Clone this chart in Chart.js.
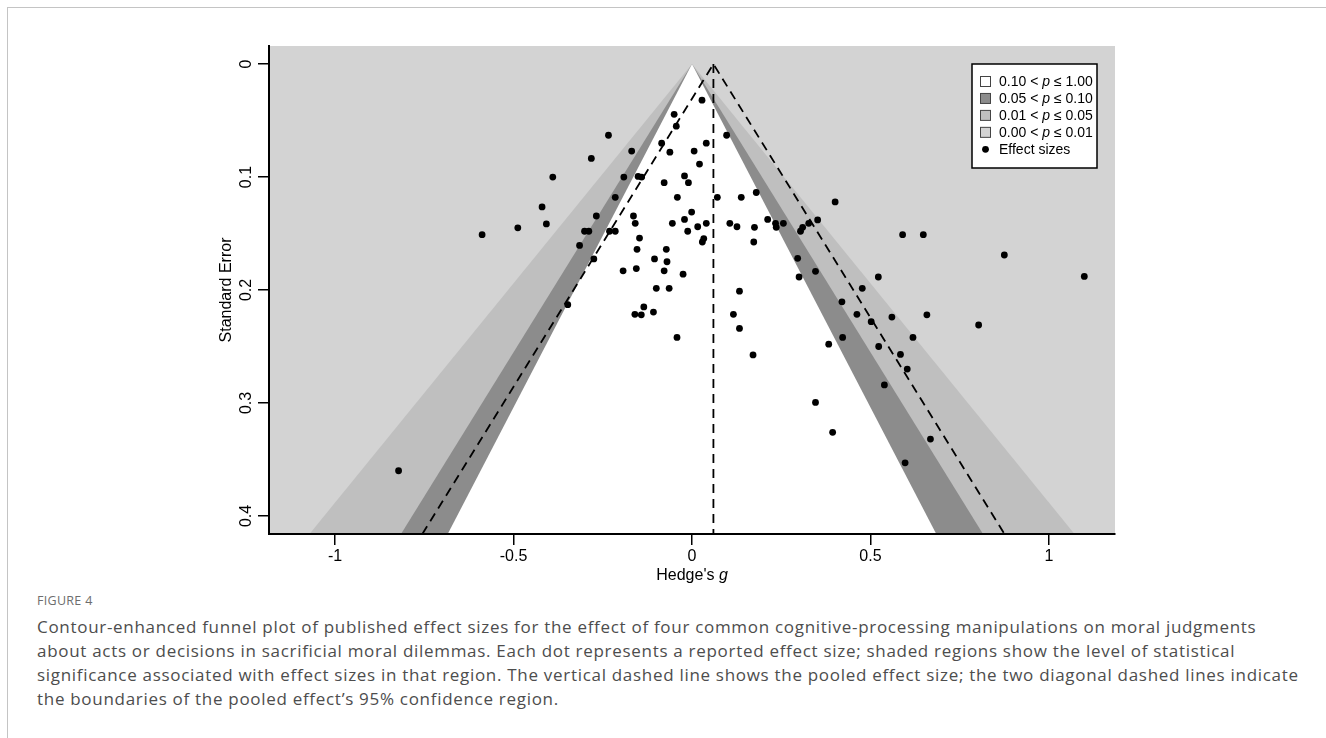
<!DOCTYPE html>
<html>
<head>
<meta charset="utf-8">
<script src="https://cdn.jsdelivr.net/npm/chart.js@4.4.1/dist/chart.umd.min.js"></script>
<style>
  html, body { margin: 0; padding: 0; background: #fff; width: 1326px; height: 738px; overflow: hidden; }
  .frame { position: absolute; left: 7px; top: 7px; width: 1400px; height: 800px; border: 1px solid #c4c4c4; }
  .chart-box { position: absolute; left: 0; top: 0; width: 1326px; height: 590px; }
  .fig-label { position: absolute; left: 37px; top: 592px; font: 12.5px "Open Sans", "Noto Sans", sans-serif; color: #6d6d6d; letter-spacing: 0.3px; }
  .caption { position: absolute; left: 37px; top: 615px; margin: 0; font: 17px "Open Sans", "Noto Sans", sans-serif; line-height: 24px; color: #4d4d4d; white-space: nowrap; letter-spacing: 0.7px; }
</style>
</head>
<body>
<div class="frame"></div>
<div class="chart-box"><canvas id="funnel" width="1326" height="590"></canvas></div>
<div class="fig-label">FIGURE 4</div>
<p class="caption">Contour-enhanced funnel plot of published effect sizes for the effect of four common cognitive-processing manipulations on moral judgments<br>about acts or decisions in sacrificial moral dilemmas. Each dot represents a reported effect size; shaded regions show the level of statistical<br>significance associated with effect sizes in that region. The vertical dashed line shows the pooled effect size; the two diagonal dashed lines indicate<br>the boundaries of the pooled effect’s 95% confidence region.</p>

<script>
// effect sizes (Hedge's g) and their standard errors
const hedgesG = [
  0.028, -0.050, -0.044, -0.234, 0.097, -0.169, -0.282, -0.085, 0.040, -0.062,
  0.006, 0.021, -0.390, -0.191, -0.151, -0.141, -0.021, -0.010, -0.078, -0.420,
  -0.215, -0.041, 0.071, 0.138, 0.180, -0.488, -0.408, -0.588, -0.268, -0.164,
  -0.159, -0.301, -0.289, -0.231, -0.215, -0.315, -0.275, -0.147, -0.154, -0.055,
  -0.021, -0.001, -0.012, 0.016, 0.040, 0.033, 0.029, 0.106, 0.126, 0.175,
  0.173, -0.072, -0.105, -0.070, -0.193, -0.156, -0.078, -0.025, -0.348, -0.100,
  -0.064, -0.135, -0.160, -0.142, -0.108, -0.042, 0.133, 0.116, 0.133, 0.171,
  0.401, 0.212, 0.234, 0.236, 0.256, 0.304, 0.310, 0.327, 0.352, 0.296,
  0.346, 0.300, 0.522, 0.477, 0.590, 0.648, 0.875, 1.099, 0.420, 0.462,
  0.502, 0.560, 0.658, 0.803, 0.422, 0.383, 0.619, 0.523, 0.584, 0.603,
  0.539, 0.346, 0.394, 0.668, 0.597, -0.822
];
const standardErrors = [
  0.032, 0.0445, 0.055, 0.063, 0.063, 0.077, 0.0835, 0.070, 0.070, 0.078,
  0.077, 0.0885, 0.100, 0.100, 0.0995, 0.100, 0.099, 0.105, 0.105, 0.1265,
  0.118, 0.118, 0.118, 0.118, 0.1137, 0.145, 0.1415, 0.151, 0.1345, 0.1345,
  0.141, 0.148, 0.148, 0.148, 0.148, 0.1605, 0.1725, 0.154, 0.164, 0.141,
  0.1375, 0.131, 0.148, 0.144, 0.141, 0.1545, 0.1575, 0.141, 0.144, 0.1445,
  0.1575, 0.164, 0.1725, 0.175, 0.183, 0.181, 0.183, 0.186, 0.213, 0.1985,
  0.1985, 0.215, 0.2215, 0.222, 0.2195, 0.242, 0.201, 0.2215, 0.234, 0.2575,
  0.122, 0.1375, 0.141, 0.1445, 0.141, 0.148, 0.1445, 0.141, 0.138, 0.172,
  0.1835, 0.1885, 0.1885, 0.1985, 0.151, 0.151, 0.169, 0.188, 0.2105, 0.2215,
  0.228, 0.224, 0.222, 0.231, 0.242, 0.248, 0.242, 0.250, 0.257, 0.270,
  0.284, 0.2995, 0.326, 0.332, 0.353, 0.360
];

const pooledEffect = 0.06;
// two-sided critical z for p = .10, .05, .01
const zCritical = [1.645, 1.96, 2.576];
const contourColors = ['#ffffff', '#8c8c8c', '#bfbfbf'];
const backColor = '#d3d3d3';

const xTicks = [-1, -0.5, 0, 0.5, 1];
const yTicks = [0, 0.1, 0.2, 0.3, 0.4];
const xRange = [-1.185, 1.185];
const yRange = [-0.016, 0.416];

const legendLabels = [
  ['0.10 < ', 'p', ' \u2264 1.00'],
  ['0.05 < ', 'p', ' \u2264 0.10'],
  ['0.01 < ', 'p', ' \u2264 0.05'],
  ['0.00 < ', 'p', ' \u2264 0.01'],
  ['Effect sizes', '', '']
];
const legendSwatches = ['#ffffff', '#8c8c8c', '#bfbfbf', '#d3d3d3', null];

const FONT = '"Liberation Sans", Arial, Helvetica, sans-serif';
const seMax = yRange[1];

const points = hedgesG.map((g, i) => ({ x: g, y: standardErrors[i] }));

// funnel triangles, widest drawn first so narrower ones sit on top
const funnelSets = zCritical.map((z, i) => ({
  type: 'line',
  data: [{ x: -z * seMax, y: seMax }, { x: 0, y: 0 }, { x: z * seMax, y: seMax }],
  borderWidth: 0,
  borderColor: 'rgba(0,0,0,0)',
  pointRadius: 0,
  backgroundColor: contourColors[i],
  fill: 'start',
  order: 2 + i
}));

const bgPlugin = {
  id: 'plotBack',
  beforeDraw(chart) {
    const { ctx, chartArea: a } = chart;
    ctx.save();
    ctx.fillStyle = backColor;
    ctx.fillRect(a.left, a.top, a.right - a.left, a.bottom - a.top);
    ctx.restore();
  }
};

const extrasPlugin = {
  id: 'extras',
  afterDraw(chart) {
    const { ctx, chartArea: a } = chart;
    ctx.save();

    // x axis title with italic g
    const t1 = "Hedge's ", t2 = 'g';
    ctx.font = '16px ' + FONT;
    const w1 = ctx.measureText(t1).width;
    ctx.font = 'italic 16px ' + FONT;
    const w2 = ctx.measureText(t2).width;
    const tx = (a.left + a.right) / 2 - (w1 + w2) / 2;
    ctx.fillStyle = '#000';
    ctx.textBaseline = 'alphabetic';
    ctx.font = '16px ' + FONT;
    ctx.fillText(t1, tx, 580);
    ctx.font = 'italic 16px ' + FONT;
    ctx.fillText(t2, tx + w1, 580);

    // legend box
    const bx = a.right - 143, by = a.top + 18, bw = 125, bh = 104;
    ctx.fillStyle = '#fff';
    ctx.fillRect(bx, by, bw, bh);
    ctx.strokeStyle = '#000';
    ctx.lineWidth = 1.5;
    ctx.strokeRect(bx, by, bw, bh);

    legendLabels.forEach((parts, i) => {
      const cy = by + 17.5 + i * 16.95;
      const sx = bx + 8.5;
      if (legendSwatches[i]) {
        ctx.fillStyle = legendSwatches[i];
        ctx.fillRect(sx, cy - 5, 10, 10);
        ctx.strokeStyle = '#444';
        ctx.lineWidth = 1;
        ctx.strokeRect(sx, cy - 5, 10, 10);
      } else {
        ctx.fillStyle = '#000';
        ctx.beginPath();
        ctx.arc(sx + 5, cy, 3.4, 0, Math.PI * 2);
        ctx.fill();
      }
      ctx.fillStyle = '#000';
      ctx.textBaseline = 'middle';
      let x = bx + 27;
      parts.forEach((p, k) => {
        if (!p) return;
        ctx.font = (k === 1 ? 'italic ' : '') + '14px ' + FONT;
        ctx.fillText(p, x, cy + 1);
        x += ctx.measureText(p).width;
      });
    });
    ctx.restore();
  }
};

new Chart(document.getElementById('funnel').getContext('2d'), {
  type: 'scatter',
  data: {
    datasets: [
      {
        label: 'Effect sizes',
        data: points,
        pointRadius: 3.4,
        pointBackgroundColor: '#000',
        pointBorderWidth: 0,
        order: 0
      },
      {
        type: 'line',
        label: 'pooled',
        data: [{ x: pooledEffect, y: 0 }, { x: pooledEffect, y: seMax }],
        borderColor: '#000',
        borderWidth: 1.8,
        borderDash: [9, 6],
        pointRadius: 0,
        fill: false,
        order: 1
      },
      {
        type: 'line',
        label: 'ci',
        data: [
          { x: pooledEffect - 1.96 * seMax, y: seMax },
          { x: pooledEffect, y: 0 },
          { x: pooledEffect + 1.96 * seMax, y: seMax }
        ],
        borderColor: '#000',
        borderWidth: 1.8,
        borderDash: [9, 6],
        pointRadius: 0,
        fill: false,
        order: 1
      },
      ...funnelSets
    ]
  },
  options: {
    responsive: false,
    animation: false,
    events: [],
    layout: { padding: { left: 209, right: 211, top: 46, bottom: 16 } },
    plugins: { legend: { display: false }, tooltip: { enabled: false } },
    scales: {
      x: {
        type: 'linear',
        min: xRange[0],
        max: xRange[1],
        afterBuildTicks: (s) => { s.ticks = xTicks.map(v => ({ value: v })); },
        afterFit: (s) => { s.height = 40; },
        grid: { display: true, drawOnChartArea: false, drawTicks: true, tickLength: 11, tickColor: '#000', lineWidth: 1.5 },
        border: { display: true, color: '#000', width: 2, z: 1 },
        ticks: {
          padding: 2,
          color: '#000',
          font: { family: FONT, size: 16 },
          maxRotation: 0,
          callback: (v) => String(v)
        }
      },
      y: {
        type: 'linear',
        reverse: true,
        min: yRange[0],
        max: yRange[1],
        afterBuildTicks: (s) => { s.ticks = yTicks.map(v => ({ value: v })); },
        afterFit: (s) => { s.width = 60; },
        grid: { display: true, drawOnChartArea: false, drawTicks: true, tickLength: 11, tickColor: '#000', lineWidth: 1.5 },
        border: { display: true, color: '#000', width: 2, z: 1 },
        ticks: {
          padding: 0,
          color: '#000',
          crossAlign: 'center',
          minRotation: 90,
          maxRotation: 90,
          font: { family: FONT, size: 16 },
          callback: (v) => String(v)
        },
        title: {
          display: true,
          text: 'Standard Error',
          color: '#000',
          font: { family: FONT, size: 16 },
          padding: { top: 8, bottom: 0 }
        }
      }
    }
  },
  plugins: [bgPlugin, extrasPlugin]
});
</script>
</body>
</html>
